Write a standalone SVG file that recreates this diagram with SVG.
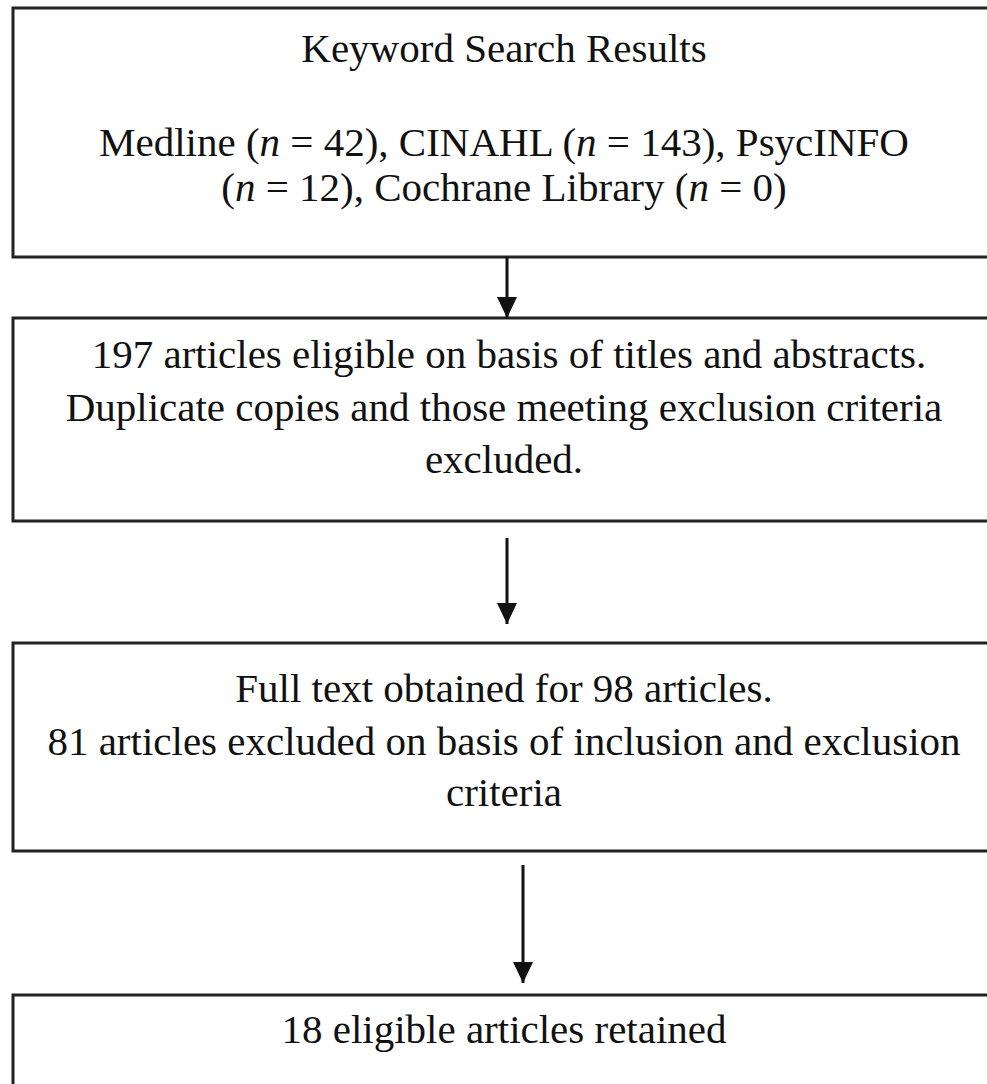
<svg xmlns="http://www.w3.org/2000/svg" width="987" height="1084" viewBox="0 0 987 1084">
<style>
.box{fill:#fff;stroke:#222;stroke-width:3}
.t{font-family:"Liberation Serif","Times New Roman",serif;font-size:41px;fill:#111;text-anchor:middle}
.c{stroke:#111;stroke-width:3;fill:none}
</style>
<defs>
<marker id="ah" viewBox="0 -10 21 20" refX="21" refY="0" markerWidth="21" markerHeight="20" markerUnits="userSpaceOnUse" orient="auto">
<path d="M0,-10 L21,0 L0,10 z" fill="#111"/>
</marker>
</defs>
<rect width="987" height="1084" fill="#fff"/>
<g id="n1">
<rect class="box" x="13" y="8" width="982" height="249"/>
<text class="t" x="504" y="62">Keyword Search Results</text>
<text class="t" x="504" y="156">Medline (<tspan font-style="italic">n</tspan> = 42), CINAHL (<tspan font-style="italic">n</tspan> = 143), PsycINFO</text>
<text class="t" x="504" y="201">(<tspan font-style="italic">n</tspan> = 12), Cochrane Library (<tspan font-style="italic">n</tspan> = 0)</text>
</g>
<g id="n2">
<rect class="box" x="13" y="318" width="982" height="203"/>
<text class="t" x="509" y="368">197 articles eligible on basis of titles and abstracts.</text>
<text class="t" x="504" y="421">Duplicate copies and those meeting exclusion criteria</text>
<text class="t" x="504" y="473">excluded.</text>
</g>
<g id="n3">
<rect class="box" x="13" y="643" width="982" height="208"/>
<text class="t" x="504" y="702">Full text obtained for 98 articles.</text>
<text class="t" x="504" y="755">81 articles excluded on basis of inclusion and exclusion</text>
<text class="t" x="504" y="806">criteria</text>
</g>
<g id="n4">
<rect class="box" x="13" y="995" width="982" height="120"/>
<text class="t" x="504" y="1043">18 eligible articles retained</text>
</g>
<g id="connectors">
<line class="c" x1="507" y1="257" x2="507" y2="318" marker-end="url(#ah)"/>
<line class="c" x1="507" y1="538" x2="507" y2="624" marker-end="url(#ah)"/>
<line class="c" x1="523" y1="865" x2="523" y2="983" marker-end="url(#ah)"/>
</g>
</svg>
